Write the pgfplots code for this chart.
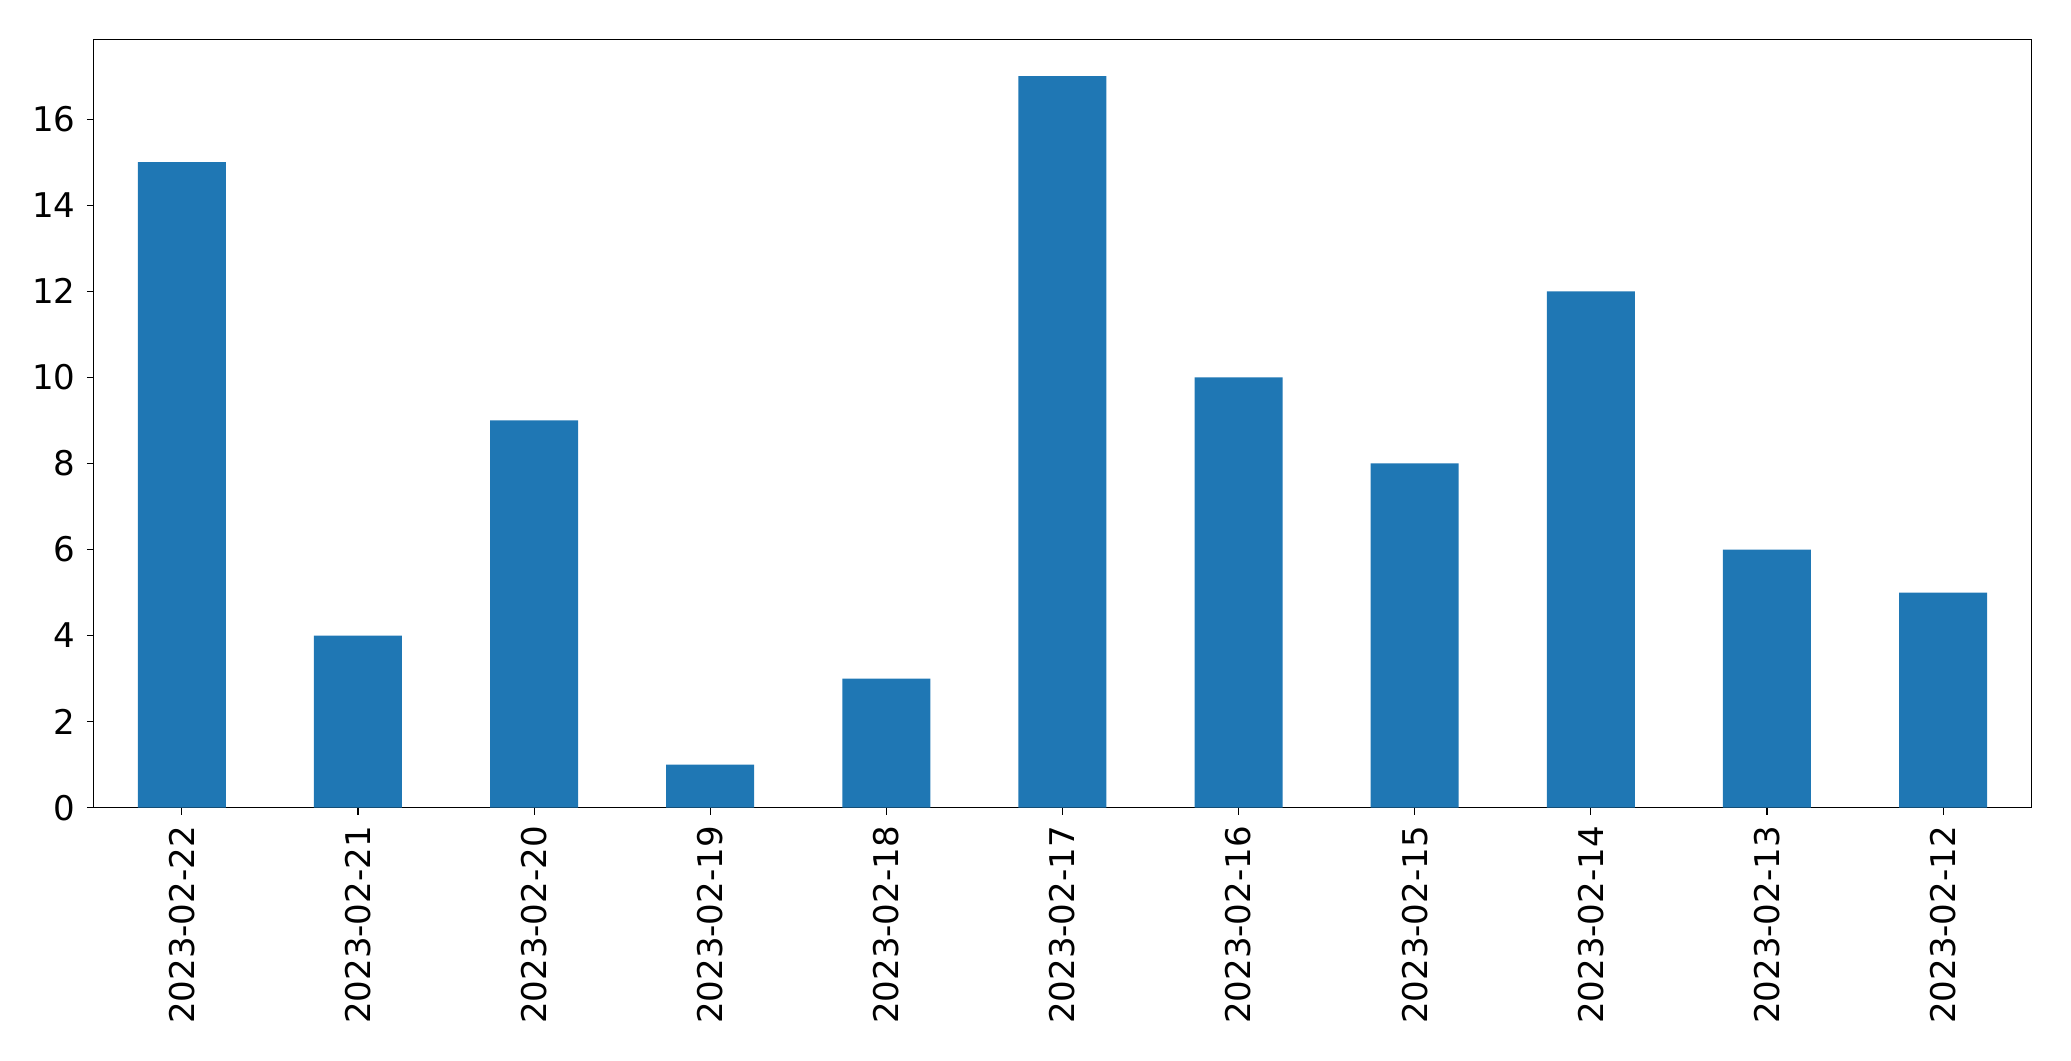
\documentclass[border=0pt]{standalone}
\usepackage{fontspec}
\setmainfont{DejaVu Sans}
\usepackage{pgfplots}
\pgfplotsset{compat=1.18}
\definecolor{mplblue}{HTML}{1F77B4}
\begin{document}
\fontsize{24.5}{29}\selectfont
\begin{tikzpicture}
\useasboundingbox (-67.5pt,-182pt) rectangle (1423.5pt,581.5pt);
\begin{axis}[
  at={(0,0)}, anchor=south west,
  scale only axis,
  width=1394.8pt, height=553pt,
  xmin=-0.5, xmax=10.5,
  ymin=0, ymax=17.85,
  xtick={0,...,10},
  xticklabels={2023-02-22,2023-02-21,2023-02-20,2023-02-19,2023-02-18,2023-02-17,2023-02-16,2023-02-15,2023-02-14,2023-02-13,2023-02-12},
  x tick label style={rotate=90, anchor=east, font=\fontsize{24.5}{29}\selectfont},
  ytick={0,2,...,16},
  y tick label style={font=\fontsize{24.5}{29}\selectfont},
  /pgf/number format/assume math mode=true,
  tick align=outside,
  xtick pos=bottom, ytick pos=left,
  major tick length=4.9pt,
  every tick/.style={black, line width=0.8pt},
  axis line style={line width=0.8pt},
  ybar, bar width=0.5,
]
\addplot[fill=mplblue, draw=none] coordinates {
(0,15) (1,4) (2,9) (3,1) (4,3) (5,17) (6,10) (7,8) (8,12) (9,6) (10,5)
};
\end{axis}
\end{tikzpicture}
\end{document}
